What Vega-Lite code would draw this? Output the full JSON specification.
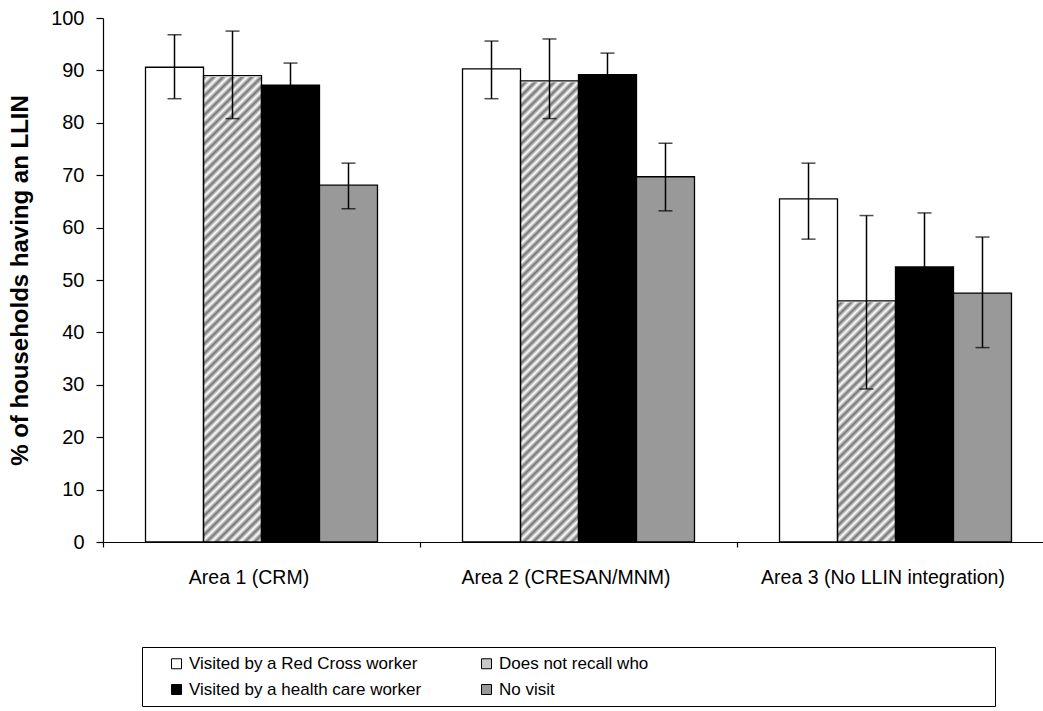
{
  "$schema": "https://vega.github.io/schema/vega-lite/v6.json",
  "width": 940,
  "height": 524,
  "autosize": {"type": "none"},
  "padding": {"left": 103, "top": 18, "right": 0, "bottom": 169},
  "background": "white",
  "config": {
    "view": {"stroke": null},
    "font": "Liberation Sans",
    "axis": {"grid": false, "domainColor": "#000000", "tickColor": "#000000", "labelColor": "#000000", "titleColor": "#000000", "domainWidth": 1.2, "tickWidth": 1.2, "labelFont": "Liberation Sans", "titleFont": "Liberation Sans"}
  },
  "data": {
    "values": [
      {"area": "Area 1 (CRM)", "group": "Visited by a Red Cross worker", "value": 90.6, "lo": 84.6, "hi": 96.8},
      {"area": "Area 1 (CRM)", "group": "Does not recall who", "value": 89.0, "lo": 80.8, "hi": 97.5},
      {"area": "Area 1 (CRM)", "group": "Visited by a health care worker", "value": 87.2, "lo": 83.0, "hi": 91.4},
      {"area": "Area 1 (CRM)", "group": "No visit", "value": 68.1, "lo": 63.6, "hi": 72.3},
      {"area": "Area 2 (CRESAN/MNM)", "group": "Visited by a Red Cross worker", "value": 90.3, "lo": 84.6, "hi": 95.6},
      {"area": "Area 2 (CRESAN/MNM)", "group": "Does not recall who", "value": 88.0, "lo": 80.8, "hi": 96.0},
      {"area": "Area 2 (CRESAN/MNM)", "group": "Visited by a health care worker", "value": 89.2, "lo": 85.1, "hi": 93.3},
      {"area": "Area 2 (CRESAN/MNM)", "group": "No visit", "value": 69.7, "lo": 63.2, "hi": 76.1},
      {"area": "Area 3 (No LLIN integration)", "group": "Visited by a Red Cross worker", "value": 65.5, "lo": 57.8, "hi": 72.3},
      {"area": "Area 3 (No LLIN integration)", "group": "Does not recall who", "value": 46.0, "lo": 29.2, "hi": 62.3},
      {"area": "Area 3 (No LLIN integration)", "group": "Visited by a health care worker", "value": 52.5, "lo": 42.2, "hi": 62.8},
      {"area": "Area 3 (No LLIN integration)", "group": "No visit", "value": 47.5, "lo": 37.1, "hi": 58.2}
    ]
  },
  "encoding": {
    "x": {
      "field": "area", "type": "nominal",
      "sort": ["Area 1 (CRM)", "Area 2 (CRESAN/MNM)", "Area 3 (No LLIN integration)"],
      "scale": {"range": [0, 951], "paddingInner": 0, "paddingOuter": 0},
      "axis": {"title": null, "labelAngle": 0, "labelFontSize": 19.5, "labelPadding": 21, "tickSize": 5, "tickBand": "extent", "labelOffset": -13, "labelLimit": 500}
    },
    "xOffset": {
      "field": "group", "type": "nominal",
      "sort": ["Visited by a Red Cross worker", "Does not recall who", "Visited by a health care worker", "No visit"],
      "scale": {"paddingInner": 0, "paddingOuter": 0.733}
    }
  },
  "layer": [
    {
      "transform": [{"filter": "datum.group === 'Does not recall who'"}],
      "mark": {
        "type": "bar",
        "stroke": null,
        "fill": {
          "gradient": "linear", "x1": 0, "y1": 0, "x2": 0.1212, "y2": 1.0971,
          "stops": [
            {"offset": 0.0041, "color": "#737373"}, {"offset": 0.0123, "color": "#ffffff"},
            {"offset": 0.0205, "color": "#737373"}, {"offset": 0.0287, "color": "#ffffff"},
            {"offset": 0.0369, "color": "#737373"}, {"offset": 0.0451, "color": "#ffffff"},
            {"offset": 0.0533, "color": "#737373"}, {"offset": 0.0615, "color": "#ffffff"},
            {"offset": 0.0697, "color": "#737373"}, {"offset": 0.0779, "color": "#ffffff"},
            {"offset": 0.0861, "color": "#737373"}, {"offset": 0.0943, "color": "#ffffff"},
            {"offset": 0.1025, "color": "#737373"}, {"offset": 0.1107, "color": "#ffffff"},
            {"offset": 0.1189, "color": "#737373"}, {"offset": 0.1270, "color": "#ffffff"},
            {"offset": 0.1352, "color": "#737373"}, {"offset": 0.1434, "color": "#ffffff"},
            {"offset": 0.1516, "color": "#737373"}, {"offset": 0.1598, "color": "#ffffff"},
            {"offset": 0.1680, "color": "#737373"}, {"offset": 0.1762, "color": "#ffffff"},
            {"offset": 0.1844, "color": "#737373"}, {"offset": 0.1926, "color": "#ffffff"},
            {"offset": 0.2008, "color": "#737373"}, {"offset": 0.2090, "color": "#ffffff"},
            {"offset": 0.2172, "color": "#737373"}, {"offset": 0.2254, "color": "#ffffff"},
            {"offset": 0.2336, "color": "#737373"}, {"offset": 0.2418, "color": "#ffffff"},
            {"offset": 0.2500, "color": "#737373"}, {"offset": 0.2582, "color": "#ffffff"},
            {"offset": 0.2664, "color": "#737373"}, {"offset": 0.2746, "color": "#ffffff"},
            {"offset": 0.2828, "color": "#737373"}, {"offset": 0.2910, "color": "#ffffff"},
            {"offset": 0.2992, "color": "#737373"}, {"offset": 0.3074, "color": "#ffffff"},
            {"offset": 0.3156, "color": "#737373"}, {"offset": 0.3238, "color": "#ffffff"},
            {"offset": 0.3320, "color": "#737373"}, {"offset": 0.3402, "color": "#ffffff"},
            {"offset": 0.3484, "color": "#737373"}, {"offset": 0.3566, "color": "#ffffff"},
            {"offset": 0.3648, "color": "#737373"}, {"offset": 0.3730, "color": "#ffffff"},
            {"offset": 0.3811, "color": "#737373"}, {"offset": 0.3893, "color": "#ffffff"},
            {"offset": 0.3975, "color": "#737373"}, {"offset": 0.4057, "color": "#ffffff"},
            {"offset": 0.4139, "color": "#737373"}, {"offset": 0.4221, "color": "#ffffff"},
            {"offset": 0.4303, "color": "#737373"}, {"offset": 0.4385, "color": "#ffffff"},
            {"offset": 0.4467, "color": "#737373"}, {"offset": 0.4549, "color": "#ffffff"},
            {"offset": 0.4631, "color": "#737373"}, {"offset": 0.4713, "color": "#ffffff"},
            {"offset": 0.4795, "color": "#737373"}, {"offset": 0.4877, "color": "#ffffff"},
            {"offset": 0.4959, "color": "#737373"}, {"offset": 0.5041, "color": "#ffffff"},
            {"offset": 0.5123, "color": "#737373"}, {"offset": 0.5205, "color": "#ffffff"},
            {"offset": 0.5287, "color": "#737373"}, {"offset": 0.5369, "color": "#ffffff"},
            {"offset": 0.5451, "color": "#737373"}, {"offset": 0.5533, "color": "#ffffff"},
            {"offset": 0.5615, "color": "#737373"}, {"offset": 0.5697, "color": "#ffffff"},
            {"offset": 0.5779, "color": "#737373"}, {"offset": 0.5861, "color": "#ffffff"},
            {"offset": 0.5943, "color": "#737373"}, {"offset": 0.6025, "color": "#ffffff"},
            {"offset": 0.6107, "color": "#737373"}, {"offset": 0.6189, "color": "#ffffff"},
            {"offset": 0.6270, "color": "#737373"}, {"offset": 0.6352, "color": "#ffffff"},
            {"offset": 0.6434, "color": "#737373"}, {"offset": 0.6516, "color": "#ffffff"},
            {"offset": 0.6598, "color": "#737373"}, {"offset": 0.6680, "color": "#ffffff"},
            {"offset": 0.6762, "color": "#737373"}, {"offset": 0.6844, "color": "#ffffff"},
            {"offset": 0.6926, "color": "#737373"}, {"offset": 0.7008, "color": "#ffffff"},
            {"offset": 0.7090, "color": "#737373"}, {"offset": 0.7172, "color": "#ffffff"},
            {"offset": 0.7254, "color": "#737373"}, {"offset": 0.7336, "color": "#ffffff"},
            {"offset": 0.7418, "color": "#737373"}, {"offset": 0.7500, "color": "#ffffff"},
            {"offset": 0.7582, "color": "#737373"}, {"offset": 0.7664, "color": "#ffffff"},
            {"offset": 0.7746, "color": "#737373"}, {"offset": 0.7828, "color": "#ffffff"},
            {"offset": 0.7910, "color": "#737373"}, {"offset": 0.7992, "color": "#ffffff"},
            {"offset": 0.8074, "color": "#737373"}, {"offset": 0.8156, "color": "#ffffff"},
            {"offset": 0.8238, "color": "#737373"}, {"offset": 0.8320, "color": "#ffffff"},
            {"offset": 0.8402, "color": "#737373"}, {"offset": 0.8484, "color": "#ffffff"},
            {"offset": 0.8566, "color": "#737373"}, {"offset": 0.8648, "color": "#ffffff"},
            {"offset": 0.8730, "color": "#737373"}, {"offset": 0.8811, "color": "#ffffff"},
            {"offset": 0.8893, "color": "#737373"}, {"offset": 0.8975, "color": "#ffffff"},
            {"offset": 0.9057, "color": "#737373"}, {"offset": 0.9139, "color": "#ffffff"},
            {"offset": 0.9221, "color": "#737373"}, {"offset": 0.9303, "color": "#ffffff"},
            {"offset": 0.9385, "color": "#737373"}, {"offset": 0.9467, "color": "#ffffff"},
            {"offset": 0.9549, "color": "#737373"}, {"offset": 0.9631, "color": "#ffffff"},
            {"offset": 0.9713, "color": "#737373"}, {"offset": 0.9795, "color": "#ffffff"},
            {"offset": 0.9877, "color": "#737373"}, {"offset": 0.9959, "color": "#ffffff"}
          ]
        }
      },
      "encoding": {
        "y": {"datum": 0, "type": "quantitative", "scale": {"domain": [0, 100], "nice": false}},
        "y2": {"datum": 100}
      }
    },
    {
      "transform": [{"filter": "datum.group === 'Does not recall who'"}],
      "mark": {"type": "bar", "fill": "#ffffff", "stroke": "#ffffff", "strokeWidth": 2.5},
      "encoding": {
        "y": {"field": "value", "type": "quantitative"},
        "y2": {"datum": 100}
      }
    },
    {
      "transform": [{"filter": "datum.group !== 'Does not recall who'"}],
      "mark": {"type": "bar", "strokeWidth": 1.3},
      "encoding": {
        "y": {
          "field": "value", "type": "quantitative",
          "scale": {"domain": [0, 100], "nice": false},
          "axis": {"title": "% of households having an LLIN", "titleFontSize": 24, "titleFontWeight": "bold", "titlePadding": 18, "labelFontSize": 20, "labelPadding": 12, "tickSize": 7, "tickCount": 10}
        },
        "stroke": {
          "field": "group", "type": "nominal",
          "scale": {
            "domain": ["Visited by a Red Cross worker", "Does not recall who", "Visited by a health care worker", "No visit"],
            "range": ["#000000", "#000000", "#000000", "#000000"]
          }
        },
        "color": {
          "field": "group", "type": "nominal",
          "scale": {
            "domain": ["Visited by a Red Cross worker", "Does not recall who", "Visited by a health care worker", "No visit"],
            "range": ["#ffffff", "#c8c8c8", "#000000", "#999999"]
          },
          "legend": {
            "title": null,
            "orient": "none",
            "legendX": 39,
            "legendY": 629,
            "columns": 2,
            "direction": "horizontal",
            "strokeColor": "#000000",
            "fillColor": "#ffffff",
            "padding": 8,
            "labelFontSize": 17,
            "labelFont": "Liberation Sans",
            "labelColor": "#000000",
            "labelLimit": 700,
            "symbolType": "square",
            "symbolSize": 100,
            "symbolStrokeWidth": 1,
            "symbolOffset": 18,
            "labelOffset": 4,
            "rowPadding": 8,
            "columnPadding": 38,
            "labelExpr": "datum.label === 'Does not recall who' ? pad(datum.label, 88, '\u00a0') + '\u2800' : datum.label"
          }
        }
      }
    },
    {
      "transform": [{"filter": "datum.group === 'Does not recall who'"}],
      "mark": {"type": "bar", "fillOpacity": 0, "stroke": "#000000", "strokeWidth": 1.3},
      "encoding": {
        "y": {"field": "value", "type": "quantitative"}
      }
    },
    {
      "mark": {"type": "rule", "color": "#000000", "strokeWidth": 1.5},
      "encoding": {
        "y": {"field": "lo", "type": "quantitative"},
        "y2": {"field": "hi"}
      }
    },
    {
      "mark": {"type": "tick", "color": "#000000", "thickness": 1.5, "size": 14},
      "encoding": {
        "y": {"field": "hi", "type": "quantitative"}
      }
    },
    {
      "mark": {"type": "tick", "color": "#000000", "thickness": 1.5, "size": 14},
      "encoding": {
        "y": {"field": "lo", "type": "quantitative"}
      }
    }
  ]
}
